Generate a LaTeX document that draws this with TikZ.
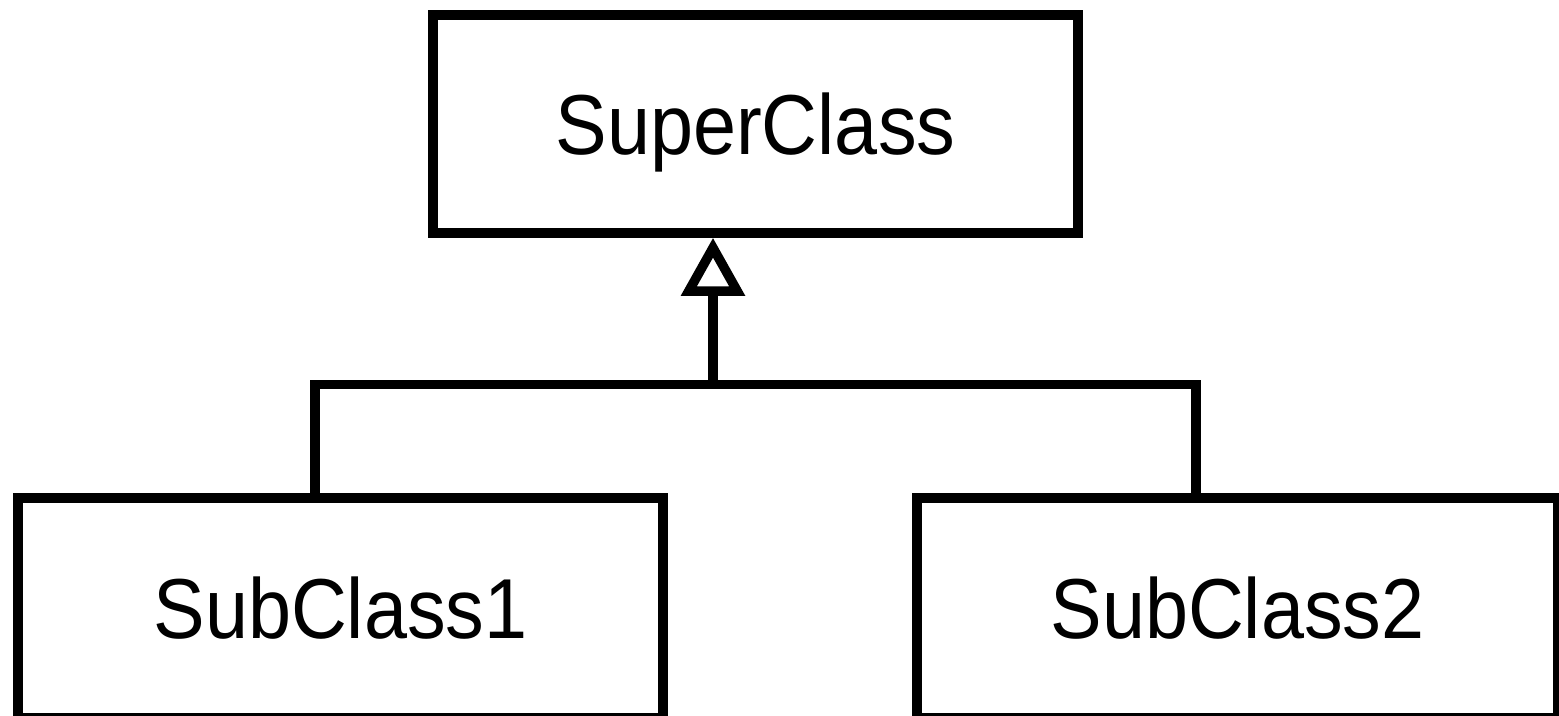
\documentclass[tikz,border=0pt]{standalone}
\usepackage{fontspec}
\usepackage{graphicx}
\setmainfont{Liberation Sans}
\usetikzlibrary{arrows.meta}
\newcommand\classname[1]{\scalebox{1}[1.1]{#1}}

\begin{document}
\begin{tikzpicture}[x=0.01cm, y=-0.01cm,
    classbox/.style={draw, line width=2.7pt, minimum width=6.45cm, minimum height=2.2cm, inner sep=0pt, text depth=0pt, font=\fontsize{22}{24}\selectfont},
    link/.style={line width=2.7pt}]
            \useasboundingbox (0,0) rectangle (1559,716);
               \node [classbox, minimum height=2.18cm] (super) at (755.5,124) {\classname{SuperClass}};
               \node [classbox] (sub1) at (340.5,608) {\classname{SubClass1}};
               \node [classbox, minimum width=6.41cm] (sub2) at (1237.5,608) {\classname{SubClass2}};
               \coordinate (join) at (713,384.5);
               \coordinate (lft) at (315,384.5);
               \coordinate (rgt) at (1196,384.5);
               \draw [link] (lft |- sub1.north) -- (lft) -- (rgt) -- (rgt |- sub2.north);
               \draw [link, -{Triangle[open, length=0.58cm, width=0.62cm]}] (join) -- (join |- super.south);
           \end{tikzpicture}
\end{document}
